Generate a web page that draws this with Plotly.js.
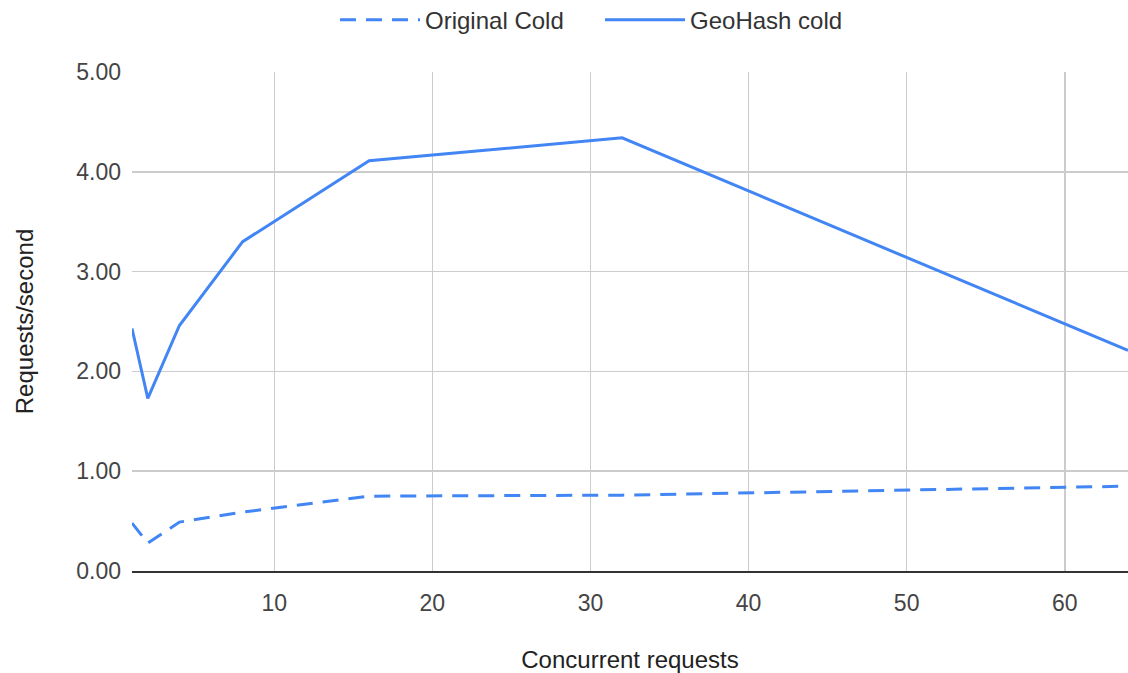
<!DOCTYPE html>
<html>
<head>
<meta charset="utf-8">
<script src="https://cdn.plot.ly/plotly-3.0.1.min.js"></script>
<style>html,body{margin:0;padding:0;background:#fff;}#chart{width:1128px;height:673px;}</style>
</head>
<body>
<div id="chart"></div>
<script>
const concurrency = [1, 2, 4, 8, 16, 32, 64];
const originalCold = [0.48, 0.28, 0.49, 0.59, 0.75, 0.76, 0.85];
const geohashCold = [2.43, 1.73, 2.46, 3.30, 4.11, 4.34, 2.21];
const seriesNames = ["Original Cold", "GeoHash cold"];
const blue = "#4285F4";
const font = "Arial, 'Liberation Sans', sans-serif";

const traces = [
  {x: concurrency, y: originalCold, name: seriesNames[0], type: "scatter", mode: "lines",
   line: {color: blue, width: 3, dash: "16px,10px"}},
  {x: concurrency, y: geohashCold, name: seriesNames[1], type: "scatter", mode: "lines",
   line: {color: blue, width: 3}}
];

const layout = {
  width: 1128, height: 673,
  margin: {l: 132, r: 0, t: 72, b: 102, autoexpand: false},
  paper_bgcolor: "#fff", plot_bgcolor: "#fff",
  font: {family: font, size: 24, color: "#222"},
  showlegend: true,
  legend: {orientation: "h", x: 0.297, xref: "container", xanchor: "left",
           y: 0.97, yref: "container", yanchor: "middle", itemwidth: 80, entrywidth: 170,
           font: {family: font, size: 24, color: "#333"}},
  xaxis: {
    range: [1, 64], tick0: 0, dtick: 10, showgrid: true, gridcolor: "#cccccc", gridwidth: 1.5,
    zeroline: false, showline: true, linecolor: "#333", linewidth: 2,
    ticks: "", ticklabelstandoff: 10, tickfont: {family: font, size: 23, color: "#444"},
    title: {text: "Concurrent requests", font: {family: font, size: 24, color: "#222"}, standoff: 40}
  },
  yaxis: {
    range: [0, 5], dtick: 1, tickformat: ".2f", showgrid: true, gridcolor: "#cccccc", gridwidth: 1.5,
    zeroline: false, showline: false, ticks: "", ticklabelstandoff: 10,
    tickfont: {family: font, size: 23, color: "#444"},
    title: {text: "Requests/second", font: {family: font, size: 24, color: "#222"}, standoff: 35}
  }
};

Plotly.newPlot("chart", traces, layout, {displayModeBar: false, staticPlot: true});
</script>
</body>
</html>
